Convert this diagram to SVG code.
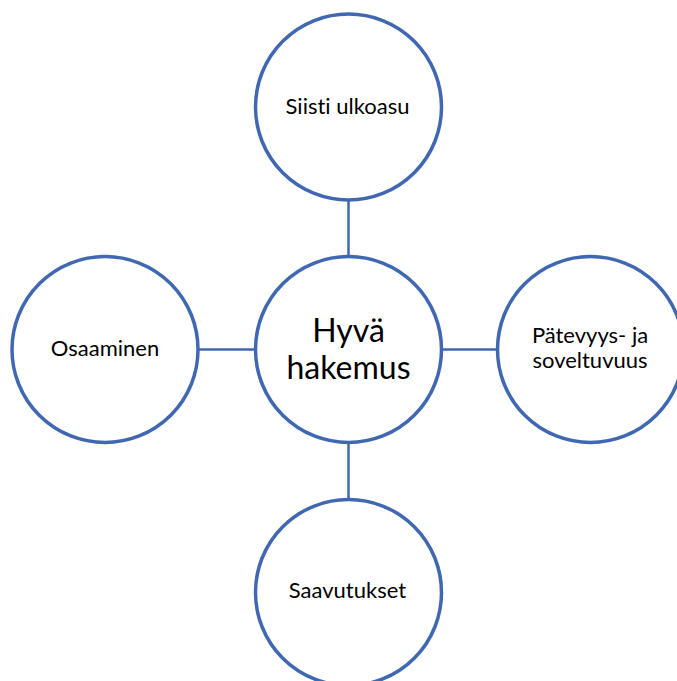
<svg xmlns="http://www.w3.org/2000/svg" width="677" height="681" viewBox="0 0 677 681">
<style>
.node circle{fill:#fff;stroke:#4068B2;stroke-width:3.5}
.conn line{stroke:#4068B2;stroke-width:2.5}
text{font-family:Lato,"Liberation Sans",sans-serif;fill:#000;text-anchor:middle;font-variant-ligatures:none}
.s{font-size:22px}
.b{font-size:32px}
</style>
<rect width="677" height="681" fill="#fff"/>
<g id="connectors" class="conn">
<line x1="348.5" y1="200" x2="348.5" y2="256"/>
<line x1="348.5" y1="443" x2="348.5" y2="499"/>
<line x1="198" y1="349.5" x2="255" y2="349.5"/>
<line x1="442" y1="349.5" x2="497" y2="349.5"/>
</g>
<g id="center" class="node"><circle cx="348.5" cy="349.5" r="93"/><text class="b" x="348.5" y="341.5">Hyvä</text><text class="b" x="348.5" y="378.5">hakemus</text></g>
<g id="top" class="node"><circle cx="348.5" cy="107" r="93"/><text class="s" x="347.5" y="114">Siisti ulkoasu</text></g>
<g id="left" class="node"><circle cx="105" cy="349.5" r="93"/><text class="s" x="105" y="356">Osaaminen</text></g>
<g id="right" class="node"><circle cx="590.5" cy="349.5" r="93"/><text class="s" x="590" y="343">Pätevyys- ja</text><text class="s" x="590" y="368">soveltuvuus</text></g>
<g id="bottom" class="node"><circle cx="348.5" cy="592.5" r="93"/><text class="s" x="347.5" y="598">Saavutukset</text></g>
</svg>
